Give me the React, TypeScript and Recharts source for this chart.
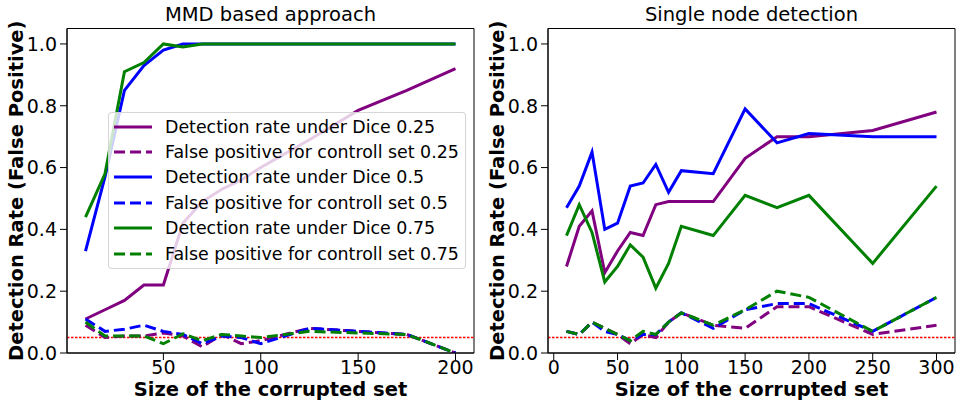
import React from "react";
import {
  LineChart,
  Line,
  XAxis,
  YAxis,
  ReferenceLine,
  ReferenceArea,
  Legend,
  Label,
} from "recharts";

// sizes of the corrupted set
const mmdSizes = [10, 20, 30, 40, 50, 60, 70, 80, 90, 100, 125, 150, 175, 200];
const nodeSizes = [10, 20, 30, 40, 50, 60, 70, 80, 90, 100, 125, 150, 175, 200, 250, 300];

// MMD based approach
const mmdDet025 = [0.11, 0.14, 0.17, 0.22, 0.22, 0.42, 0.49, 0.53, 0.56, 0.6, 0.69, 0.785, 0.85, 0.92];
const mmdFp025 = [0.09, 0.05, 0.055, 0.055, 0.065, 0.055, 0.02, 0.06, 0.03, 0.04, 0.08, 0.07, 0.06, 0.0];
const mmdDet05 = [0.33, 0.57, 0.85, 0.93, 0.98, 1.0, 1.0, 1.0, 1.0, 1.0, 1.0, 1.0, 1.0, 1.0];
const mmdFp05 = [0.11, 0.07, 0.077, 0.09, 0.07, 0.06, 0.03, 0.055, 0.05, 0.03, 0.08, 0.07, 0.06, 0.0];
const mmdDet075 = [0.44, 0.58, 0.91, 0.94, 1.0, 0.99, 1.0, 1.0, 1.0, 1.0, 1.0, 1.0, 1.0, 1.0];
const mmdFp075 = [0.1, 0.055, 0.055, 0.055, 0.03, 0.062, 0.04, 0.06, 0.055, 0.05, 0.07, 0.065, 0.06, 0.0];

// Single node detection
const nodeDet025 = [0.28, 0.41, 0.46, 0.26, 0.33, 0.39, 0.38, 0.48, 0.49, 0.49, 0.49, 0.63, 0.7, 0.7, 0.72, 0.78];
const nodeFp025 = [0.07, 0.06, 0.1, 0.08, 0.06, 0.03, 0.06, 0.05, 0.1, 0.13, 0.09, 0.08, 0.15, 0.15, 0.06, 0.09];
const nodeDet05 = [0.47, 0.54, 0.65, 0.4, 0.42, 0.54, 0.55, 0.61, 0.52, 0.59, 0.58, 0.79, 0.68, 0.71, 0.7, 0.7];
const nodeFp05 = [0.07, 0.06, 0.1, 0.07, 0.06, 0.04, 0.06, 0.06, 0.1, 0.13, 0.08, 0.14, 0.16, 0.16, 0.07, 0.18];
const nodeDet075 = [0.38, 0.48, 0.39, 0.23, 0.28, 0.35, 0.31, 0.21, 0.29, 0.41, 0.38, 0.51, 0.47, 0.51, 0.29, 0.54];
const nodeFp075 = [0.07, 0.06, 0.1, 0.08, 0.06, 0.04, 0.07, 0.06, 0.1, 0.13, 0.09, 0.14, 0.2, 0.18, 0.07, 0.18];

const yTicks = [0, 0.2, 0.4, 0.6, 0.8, 1.0];
const mmdTicks = [50, 100, 150, 200];
const nodeTicks = [0, 50, 100, 150, 200, 250, 300];
const threshold = 0.05;

const seriesNames = [
  "Detection rate under Dice 0.25",
  "False positive for controll set 0.25",
  "Detection rate under Dice 0.5",
  "False positive for controll set 0.5",
  "Detection rate under Dice 0.75",
  "False positive for controll set 0.75",
];
const keys = ["det025", "fp025", "det05", "fp05", "det075", "fp075"];
const colors = ["#800080", "#800080", "#0000ff", "#0000ff", "#008000", "#008000"];
const DASH = "11 5";

const FONT = "DejaVu Sans";
const FS = 19.5;
const TICK_FS = 19;

function buildRows(xs: number[], cols: number[][]) {
  return xs.map((x, i) => {
    const row: Record<string, number> = { x };
    keys.forEach((k, j) => (row[k] = cols[j][i]));
    return row;
  });
}

const mmdData = buildRows(mmdSizes, [mmdDet025, mmdFp025, mmdDet05, mmdFp05, mmdDet075, mmdFp075]);
const nodeData = buildRows(nodeSizes, [nodeDet025, nodeFp025, nodeDet05, nodeFp05, nodeDet075, nodeFp075]);

function LegendBox() {
  return (
    <div
      style={{
        background: "rgba(255,255,255,0.8)",
        border: "1px solid rgba(204,204,204,0.8)",
        borderRadius: 4,
        padding: "1px 0 2px 0",
        fontFamily: FONT,
        fontSize: 17.4,
        color: "#000",
      }}
    >
      {seriesNames.map((name, i) => (
        <div key={name} style={{ display: "flex", alignItems: "center", height: 25.4 }}>
          <svg width={56} height={10}>
            <line
              x1={5}
              x2={43}
              y1={5}
              y2={5}
              stroke={colors[i]}
              strokeWidth={3}
              strokeDasharray={i % 2 === 1 ? DASH : undefined}
            />
          </svg>
          <span style={{ whiteSpace: "nowrap" }}>{name}</span>
        </div>
      ))}
    </div>
  );
}

function YLabel(props: any) {
  const vb = props.viewBox;
  const cx = vb.x + props.dxPos;
  const cy = vb.y + vb.height / 2;
  return (
    <text
      x={cx}
      y={cy}
      transform={`rotate(-90 ${cx} ${cy})`}
      textAnchor="middle"
      dominantBaseline="central"
      fontFamily={FONT}
      fontWeight="bold"
      fontSize={FS}
      fill="#000"
    >
      Detection Rate (False Positive)
    </text>
  );
}

type PanelProps = {
  data: Record<string, number>[];
  domain: [number, number];
  ticks: number[];
  title: string;
  yAxisWidth: number;
  labelPos: number;
  marginRight: number;
  showLegend: boolean;
};

function Panel({ data, domain, ticks, title, yAxisWidth, labelPos, marginRight, showLegend }: PanelProps) {
  const width = 478;
  const plotLeft = yAxisWidth;
  const plotRight = width - marginRight;
  return (
    <div style={{ position: "relative", width, height: 400 }}>
      <div
        style={{
          position: "absolute",
          left: plotLeft,
          width: plotRight - plotLeft,
          top: 3,
          textAlign: "center",
          fontFamily: FONT,
          fontSize: FS,
          lineHeight: "23px",
        }}
      >
        {title}
      </div>
      <LineChart
        width={width}
        height={400}
        data={data}
        margin={{ top: 28.5, right: marginRight, bottom: 0, left: 0 }}
      >
        <XAxis
          dataKey="x"
          type="number"
          domain={domain}
          ticks={ticks}
          allowDataOverflow
          height={47}
          tickSize={7}
          tickMargin={1}
          stroke="#000"
          tick={{ fill: "#000", fontSize: TICK_FS, fontFamily: FONT }}
        >
          <Label
            value="Size of the corrupted set"
            position="insideBottom"
            offset={4.5}
            style={{ fontFamily: FONT, fontWeight: "bold", fontSize: FS, fill: "#000" }}
          />
        </XAxis>
        <YAxis
          type="number"
          domain={[0, 1.05]}
          ticks={yTicks}
          allowDataOverflow
          width={yAxisWidth}
          tickSize={7}
          tickMargin={3}
          stroke="#000"
          tickFormatter={(v: number) => v.toFixed(1)}
          tick={{ fill: "#000", fontSize: TICK_FS, fontFamily: FONT }}
        >
          <Label content={(p: any) => <YLabel {...p} dxPos={labelPos} />} />
        </YAxis>
        <ReferenceArea
          x1={domain[0]}
          x2={domain[1]}
          y1={0}
          y2={1.05}
          fill="none"
          fillOpacity={0}
          stroke="#000"
          strokeWidth={1}
        />
        <ReferenceLine y={threshold} stroke="#ff0000" strokeWidth={1.4} strokeDasharray="2.5 1.5" />
        {keys.map((k, i) => (
          <Line
            key={k}
            dataKey={k}
            type="linear"
            stroke={colors[i]}
            strokeWidth={3}
            strokeDasharray={i % 2 === 1 ? DASH : undefined}
            dot={false}
            activeDot={false}
            isAnimationActive={false}
          />
        ))}
        {showLegend && (
          <Legend
            layout="vertical"
            align="center"
            verticalAlign="middle"
            content={() => <LegendBox />}
            wrapperStyle={{ left: 108, top: 112, width: 358, height: "auto" }}
          />
        )}
      </LineChart>
    </div>
  );
}

export default function App() {
  return (
    <div style={{ position: "absolute", left: 0, top: 0, width: 956, height: 400, display: "flex", background: "#fff" }}>
      <Panel
        data={mmdData}
        domain={[0.5, 209.5]}
        ticks={mmdTicks}
        title="MMD based approach"
        yAxisWidth={67}
        labelPos={16}
        marginRight={4}
        showLegend
      />
      <Panel
        data={nodeData}
        domain={[-4.5, 314.5]}
        ticks={nodeTicks}
        title="Single node detection"
        yAxisWidth={70}
        labelPos={19}
        marginRight={1}
        showLegend={false}
      />
    </div>
  );
}
